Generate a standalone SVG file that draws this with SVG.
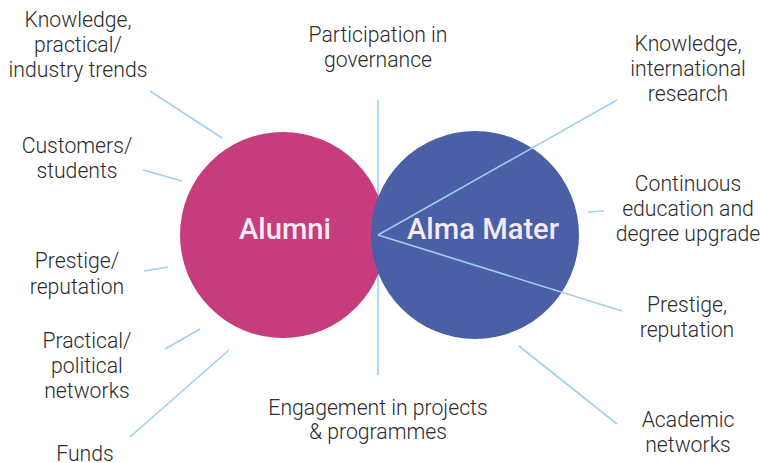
<svg xmlns="http://www.w3.org/2000/svg" width="760" height="463" viewBox="0 0 760 463">
<style>
.lbl{font-family:Roboto,"Liberation Sans",sans-serif;font-weight:300;font-size:21.2px;fill:#2b2b2b;text-anchor:middle}
.big{font-family:Roboto,"Liberation Sans",sans-serif;font-weight:500;font-size:29.2px;fill:#f3eaf3;text-anchor:middle}
.ln{stroke:#9fd0f2;stroke-width:1.6;fill:none}
</style>
<rect width="760" height="463" fill="#ffffff"/>
<g id="connectors-back">
<line class="ln" x1="378" y1="100" x2="378" y2="375"/>
</g>
<g id="alumni">
<circle cx="283" cy="235" r="103" fill="#c63c7c"/>
<text class="big" x="285" y="239">Alumni</text>
</g>
<g id="alma-mater">
<circle cx="475" cy="235" r="104" fill="#4a5fa6"/>
<text class="big" x="483" y="239">Alma Mater</text>
</g>
<g id="connectors">
<line class="ln" x1="150" y1="91" x2="222" y2="138"/>
<line class="ln" x1="143" y1="170" x2="182" y2="181"/>
<line class="ln" x1="144" y1="271" x2="168" y2="267"/>
<line class="ln" x1="165" y1="349" x2="200" y2="329"/>
<line class="ln" x1="130" y1="437" x2="229" y2="350"/>
<line class="ln" x1="378" y1="235" x2="617" y2="100"/>
<line class="ln" x1="378" y1="235" x2="622" y2="311"/>
<line class="ln" x1="588" y1="212" x2="604" y2="211"/>
<line class="ln" x1="519" y1="346" x2="617" y2="424"/>
</g>
<g id="knowledge-practical">
<text class="lbl" x="78" y="27">Knowledge,</text>
<text class="lbl" x="78" y="52">practical/</text>
<text class="lbl" x="78" y="77">industry trends</text>
</g>
<g id="customers">
<text class="lbl" x="77" y="153">Customers/</text>
<text class="lbl" x="77" y="178">students</text>
</g>
<g id="prestige-left">
<text class="lbl" x="77" y="268">Prestige/</text>
<text class="lbl" x="77" y="294">reputation</text>
</g>
<g id="practical-networks">
<text class="lbl" x="87" y="348">Practical/</text>
<text class="lbl" x="87" y="373">political</text>
<text class="lbl" x="87" y="398">networks</text>
</g>
<g id="funds">
<text class="lbl" x="85" y="461">Funds</text>
</g>
<g id="participation">
<text class="lbl" x="378" y="42">Participation in</text>
<text class="lbl" x="378" y="67">governance</text>
</g>
<g id="engagement">
<text class="lbl" x="378" y="415">Engagement in projects</text>
<text class="lbl" x="378" y="439">&amp; programmes</text>
</g>
<g id="knowledge-international">
<text class="lbl" x="688" y="51">Knowledge,</text>
<text class="lbl" x="688" y="76">international</text>
<text class="lbl" x="688" y="101">research</text>
</g>
<g id="continuous">
<text class="lbl" x="688" y="191">Continuous</text>
<text class="lbl" x="688" y="216">education and</text>
<text class="lbl" x="688" y="241">degree upgrade</text>
</g>
<g id="prestige-right">
<text class="lbl" x="687" y="312">Prestige,</text>
<text class="lbl" x="687" y="337">reputation</text>
</g>
<g id="academic">
<text class="lbl" x="688" y="427">Academic</text>
<text class="lbl" x="688" y="452">networks</text>
</g>
</svg>
